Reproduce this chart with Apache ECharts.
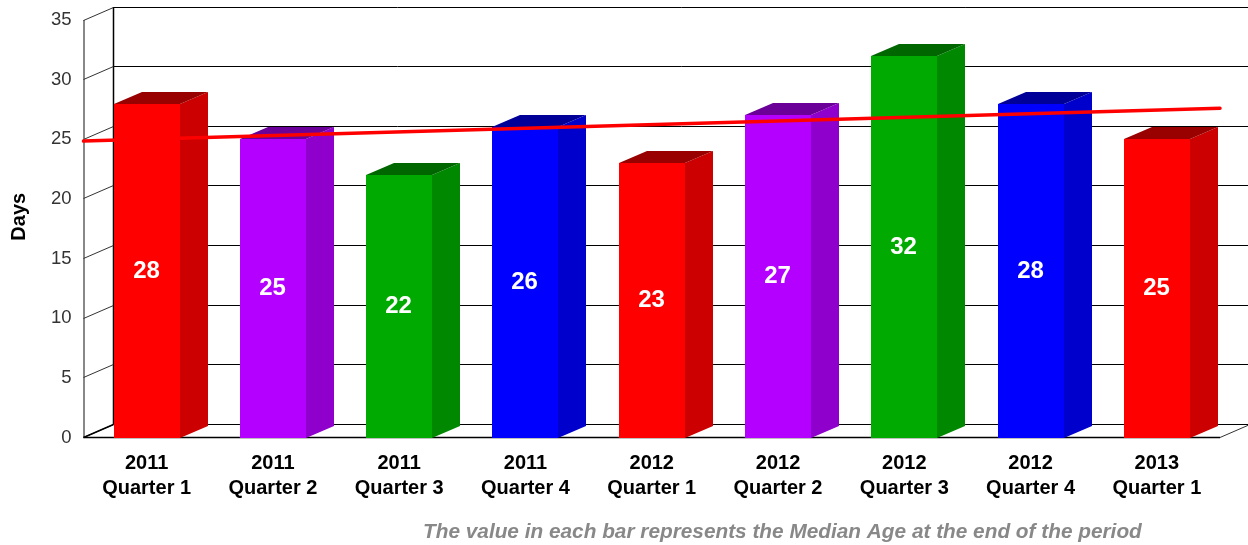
<!DOCTYPE html>
<html>
<head>
<meta charset="utf-8">
<title>Median Age</title>
<style>
html, body { margin: 0; padding: 0; background: #fff; }
#main { width: 1248px; height: 545px; }
</style>
<script src="https://cdn.jsdelivr.net/npm/echarts@6/dist/echarts.min.js"></script>
</head>
<body>
<div id="main"></div>
<script>
var years = ['2011', '2011', '2011', '2011', '2012', '2012', '2012', '2012', '2013'];
var quarters = ['Quarter 1', 'Quarter 2', 'Quarter 3', 'Quarter 4', 'Quarter 1', 'Quarter 2', 'Quarter 3', 'Quarter 4', 'Quarter 1'];
var medianAge = [28, 25, 22, 26, 23, 27, 32, 28, 25];
var wallTicks = [0, 5, 10, 15, 20, 25, 30, 35];
var trendPos = [0, 9];
var trendAge = [24.85, 27.6];
var footnote = 'The value in each bar represents the Median Age at the end of the period';

/* front, top, side */
var palette = [
	[ '#ff0000', '#990000', '#cc0000' ],
	[ '#b300ff', '#6b0099', '#8f00cc' ],
	[ '#00aa00', '#006600', '#008800' ],
	[ '#0000ff', '#000099', '#0000cc' ]
];

var DX = 30, DY = 13;    // depth of the chart box
var BAR_W = 66, BAR_DX = 28, BAR_DY = 12;    // depth of one bar

var categories = years.map(function (y, i) {
	return y + '\n' + quarters[i];
});

function line(x1, y1, x2, y2, color, width) {
	return {
		type: 'line',
		shape: { x1: x1, y1: y1, x2: x2, y2: y2 },
		style: { stroke: color, lineWidth: width || 1 }
	};
}

/* back wall, left wall and floor */
function renderWall(params, api) {
	var box = params.coordSys;
	var left = box.x, right = box.x + box.width;
	var y = Math.floor(api.coord([0, api.value(0)])[1]) + 0.5;
	var kids = [
		line(left, y, left + DX, y - DY, '#333'),
		line(left + DX, y - DY, right + DX, y - DY, '#000')
	];
	if (api.value(0) === 0) {
		var topY = box.y;
		kids.push(line(left + 0.5, topY, left + 0.5, y, '#888', 2));
		kids.push(line(left + DX, topY - DY, left + DX, y - DY, '#000', 1.5));
		kids.push(line(left, y, right, y, '#000', 1.5));
		kids.push(line(left, y, left + DX, y - DY, '#000', 1.5));
		kids.push(line(right, y, right + DX, y - DY, '#333'));
	}
	return { type: 'group', children: kids };
}

function renderBar(params, api) {
	var value = api.value(1);
	var top = api.coord([api.value(0), value]);
	var base = api.coord([api.value(0), 0]);
	var x0 = Math.round(top[0] - BAR_W / 2), x1 = x0 + BAR_W;
	var y0 = Math.round(top[1]), y1 = Math.round(base[1]);
	var c = palette[params.dataIndex % palette.length];
	return {
		type: 'group',
		children: [
			{
				type: 'polygon',
				shape: { points: [ [x1, y0], [x1 + BAR_DX, y0 - BAR_DY], [x1 + BAR_DX, y1 - BAR_DY], [x1, y1] ] },
				style: { fill: c[2] }
			},
			{
				type: 'polygon',
				shape: { points: [ [x0, y0], [x0 + BAR_DX, y0 - BAR_DY], [x1 + BAR_DX, y0 - BAR_DY], [x1, y0] ] },
				style: { fill: c[1] }
			},
			{
				type: 'rect',
				shape: { x: x0, y: y0, width: BAR_W, height: y1 - y0 },
				style: { fill: c[0] }
			},
			{
				type: 'text',
				style: {
					x: (x0 + x1) / 2 - 0.5,
					y: (y0 + y1) / 2,
					text: String(value),
					fill: '#fff',
					font: 'bold 24px "Liberation Sans"',
					align: 'center',
					verticalAlign: 'middle'
				}
			}
		]
	};
}

var myChart = echarts.init(document.getElementById('main'), null, { renderer: 'canvas' });

var option = {
	animation: false,
	backgroundColor: '#fff',
	textStyle: { fontFamily: '"Liberation Sans"' },
	title: {
		text: footnote,
		left: 423,
		top: 522,
		padding: 0,
		textStyle: {
			fontFamily: '"Liberation Sans"',
			fontSize: 20.8,
			fontWeight: 'bold',
			fontStyle: 'italic',
			color: '#888888'
		}
	},
	grid: { left: 83.5, right: 28, top: 20, bottom: 107.5 },
	xAxis: [
		{
			type: 'category',
			data: categories,
			axisLine: { show: false },
			axisTick: { show: false },
			axisLabel: {
				interval: 0,
				margin: 13,
				color: '#000',
				fontFamily: '"Liberation Sans"',
				fontSize: 20,
				fontWeight: 'bold',
				lineHeight: 25
			}
		},
		{
			type: 'value',
			show: false,
			min: 0,
			max: 9
		}
	],
	yAxis: {
		type: 'value',
		min: 0,
		max: 35,
		interval: 5,
		name: 'Days',
		nameLocation: 'middle',
		nameGap: 54,
		nameTextStyle: {
			color: '#000',
			fontFamily: '"Liberation Sans"',
			fontSize: 20,
			fontWeight: 'bold',
			padding: [0, 0, 0, 24]
		},
		axisLine: { show: false },
		axisTick: { show: false },
		splitLine: { show: false },
		axisLabel: {
			margin: 12,
			color: '#333',
			fontFamily: '"Liberation Sans"',
			fontSize: 18.5,
			padding: [3, 0, 0, 0]
		}
	},
	series: [
		{
			type: 'custom',
			silent: true,
			z: 1,
			renderItem: renderWall,
			data: wallTicks.map(function (v) { return [v]; }),
			encode: { y: 0 }
		},
		{
			type: 'custom',
			z: 2,
			renderItem: renderBar,
			data: medianAge.map(function (v, i) { return [i, v]; }),
			encode: { x: 0, y: 1 }
		},
		{
			type: 'line',
			z: 3,
			xAxisIndex: 1,
			clip: false,
			symbol: 'none',
			silent: true,
			lineStyle: { color: '#ff0000', width: 3.5, cap: 'round' },
			data: trendPos.map(function (p, i) { return [p, trendAge[i]]; })
		}
	]
};

myChart.setOption(option);
</script>
</body>
</html>
